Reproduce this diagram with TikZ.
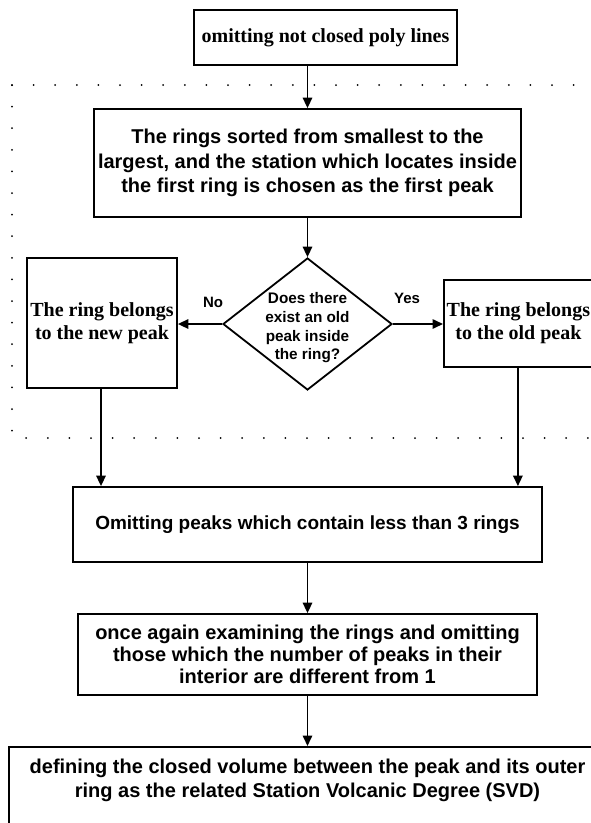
\documentclass[tikz,border=0pt]{standalone}
\usepackage{fontspec}
\setmainfont{Liberation Serif}
\newfontfamily\arialfont{Liberation Sans}
\usetikzlibrary{arrows.meta,shapes.geometric,calc}
\begin{document}
\begin{tikzpicture}[x=1pt,y=-1pt,
  box/.style={draw, line width=1.8pt, inner sep=0pt, align=center},
  conn/.style={line width=1.6pt, -{Triangle[length=10.5pt,width=9.5pt]}},
  dotline/.style={line width=2pt, line cap=round, dash pattern=on 0pt off 21.6pt},
  seriftxt/.style={font=\bfseries\fontsize{20}{23}\selectfont, align=center},
  sansA/.style={font=\arialfont\bfseries\fontsize{20}{24.5}\selectfont, align=center},
  sansB/.style={font=\arialfont\bfseries\fontsize{19}{22}\selectfont, align=center},
  sansC/.style={font=\arialfont\bfseries\fontsize{20}{22}\selectfont, align=center},
  sansD/.style={font=\arialfont\bfseries\fontsize{15.3}{18.7}\selectfont, align=center, inner sep=0pt},
]
\useasboundingbox (0,0) rectangle (591,823);
\clip (0,0) rectangle (591,823);

% dotted frame
\draw[dotline] (12,85) -- (600,85);
\draw[dotline] (12,85) -- (12,438) -- (600,438);

% boxes
\node[box, seriftxt, minimum width=263pt, minimum height=55pt] (top) at (325.5,37.5) {omitting not closed poly lines};
\node[box, sansA, minimum width=427pt, minimum height=108pt] (b2) at (307.5,163) {The rings sorted from smallest to the\\largest, and the station which locates inside\\the first ring is chosen as the first peak};
\node[draw, diamond, line width=1.8pt, minimum width=169pt, minimum height=132pt, inner sep=0pt] (dia) at (307.5,324) {};
\node[sansD] (diat) at (307.5,328) {Does there\\exist an old\\peak inside\\the ring?};
\node[box, seriftxt, minimum width=150pt, minimum height=130pt] (left) at (102,323) {The ring belongs\\to the new peak};
\node[box, seriftxt, minimum width=160pt, minimum height=87pt, anchor=west] (right) at (443,323.5) {The ring belongs\hspace*{11pt}\\to the old peak\hspace*{11pt}};
\node[box, sansB, minimum width=469pt, minimum height=75pt] (b3) at (307.5,524.5) {Omitting peaks which contain less than 3 rings};
\node[box, sansC, minimum width=459pt, minimum height=81pt] (b4) at (307.5,654.5) {once again examining the rings and omitting\\those which the number of peaks in their\\interior are different from 1};
\node[box, minimum width=597pt, minimum height=110pt, anchor=north] (b5) at (307.5,746) {};
\node[sansA, font=\arialfont\bfseries\fontsize{20}{24}\selectfont] (b5t) at (307.5,780) {defining the closed volume between the peak and its outer\\ring as the related Station Volcanic Degree (SVD)};

% labels
\node[sansD, font=\arialfont\bfseries\fontsize{15}{18}\selectfont] (no) at (213,302) {No};
\node[sansD, font=\arialfont\bfseries\fontsize{15}{18}\selectfont] (yes) at (407,298) {Yes};

% connectors
\draw[conn] (top.south -| b2.north) -- (b2.north);
\draw[conn] (b2.south) -- (dia.north);
\draw[conn] (dia.west) -- (dia.west -| left.east);
\draw[conn] (dia.east) -- (dia.east -| right.west);
\draw[conn] ([xshift=-1pt]left.south) -- ([xshift=-1pt]left.south |- b3.north);
\draw[conn] ([xshift=-6pt]right.south) -- ([xshift=-6pt]right.south |- b3.north);
\draw[conn] (b3.south) -- (b4.north);
\draw[conn] (b4.south) -- (b5.north);
\end{tikzpicture}
\end{document}
